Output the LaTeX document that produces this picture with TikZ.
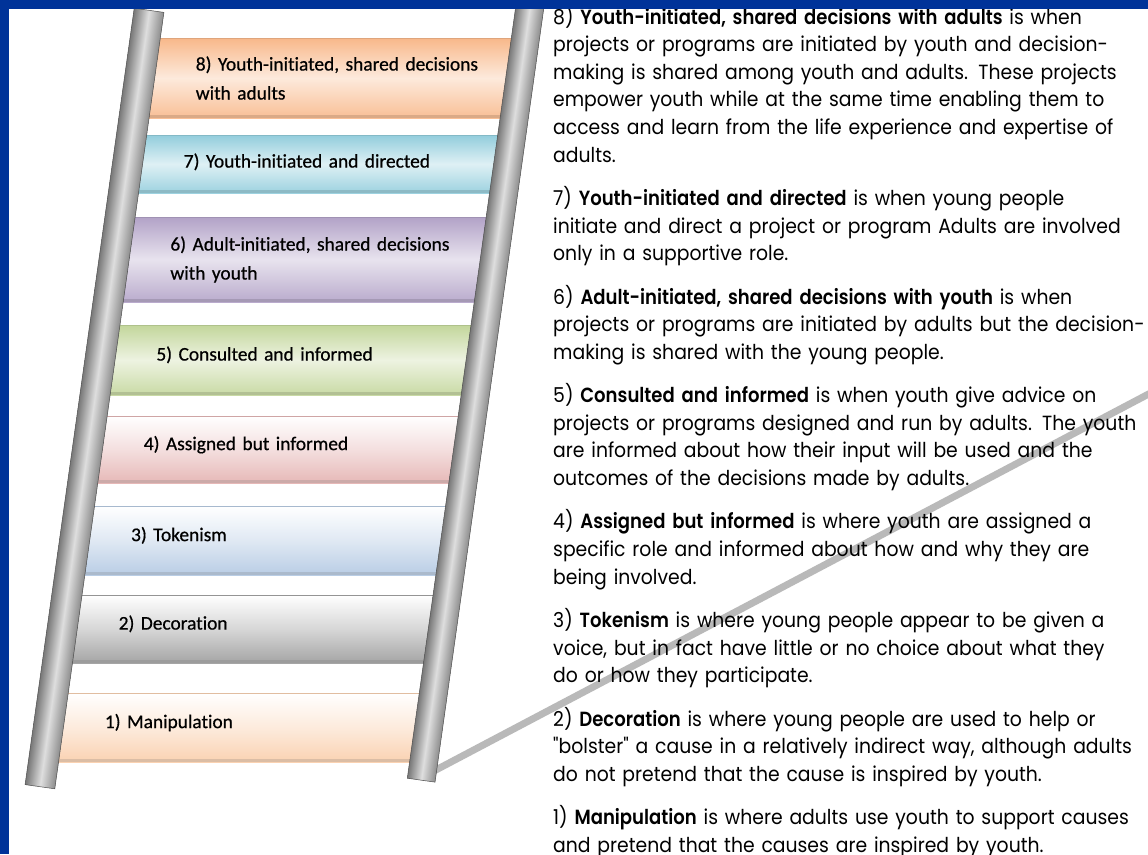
\documentclass[tikz,border=0pt]{standalone}
\usepackage{fontspec}
\setmainfont{Carlito}[Ligatures=NoCommon, FakeBold=0.6]
\newfontfamily\gothic{Poppins}[FakeStretch=0.917, BoldFont={Poppins SemiBold}, BoldFeatures={FakeStretch=0.88}]
\usetikzlibrary{positioning}

\definecolor{frameblue}{RGB}{0,51,153}
\definecolor{railedge}{RGB}{120,120,120}
\definecolor{raillight}{RGB}{222,222,222}
\definecolor{linegray}{RGB}{185,185,185}
\definecolor{c8}{RGB}{248,184,138}
\definecolor{c7}{RGB}{146,205,220}
\definecolor{c6}{RGB}{178,162,199}
\definecolor{c5}{RGB}{195,214,155}
\definecolor{c4}{RGB}{230,184,183}
\definecolor{c3}{RGB}{185,205,229}
\definecolor{c2}{RGB}{165,165,165}
\definecolor{c1}{RGB}{250,210,178}

\tikzstyle{rung} = [rectangle, minimum width=372pt, text width=272pt, inner xsep=50pt, inner ysep=0pt, align=left, text depth=13pt, font=\fontsize{19.4}{29}\selectfont]
\tikzstyle{rail} = [left color=railedge, right color=railedge!85, middle color=raillight, draw=gray!60!black, line width=0.5pt]
\tikzstyle{para} = [text width=700pt, inner sep=0pt, align=left, font=\gothic\fontsize{20.5}{27.6}\selectfont, execute at begin node=\strut, execute at end node=\strut]
\tikzset{
  glossy/.style={top color=#1, bottom color=#1!90!white, middle color=#1!30!white,
    path picture={\fill[#1!75!gray] ([yshift=3.5pt]path picture bounding box.south west) rectangle (path picture bounding box.south east);
      \draw[#1!90!black, line width=1.2pt] (path picture bounding box.north west) -- (path picture bounding box.north east);}},
  faded/.style={top color=white, bottom color=#1, middle color=#1!45!white,
    path picture={\fill[#1!75!gray] ([yshift=3.5pt]path picture bounding box.south west) rectangle (path picture bounding box.south east);
      \draw[#1!90!black, line width=1.2pt] (path picture bounding box.north west) -- (path picture bounding box.north east);}}
}

\begin{document}
\begin{tikzpicture}[x=1pt, y=-1pt]
    \useasboundingbox (0,0) rectangle (1148,854);
    \fill[white] (0,0) rectangle (1148,854);

    % rungs, top to bottom
    \node (r8) [rung, glossy=c8, minimum height=80pt, text depth={}] at (331.8,78) {\mbox{8) Youth-initiated, shared decisions}\\with adults};
    \node (r7) [rung, glossy=c7, minimum height=58pt, text depth=7pt, node distance=86pt, below of=r8, xshift=-12pt] {7) Youth-initiated and directed};
    \node (r6) [rung, glossy=c6, minimum height=85pt, text depth={}, node distance=95.5pt, below of=r7, xshift=-13.4pt] {\mbox{6) Adult-initiated, shared decisions}\\with youth};
    \node (r5) [rung, glossy=c5, minimum height=70pt, node distance=100.5pt, below of=r6, xshift=-14pt] {5) Consulted and informed};
    \node (r4) [rung, faded=c4, minimum height=67pt, node distance=89.5pt, below of=r5, xshift=-12.6pt] {4) Assigned but informed};
    \node (r3) [rung, faded=c3, minimum height=69pt, node distance=91pt, below of=r4, xshift=-12.7pt] {3) Tokenism};
    \node (r2) [rung, faded=c2, minimum height=68pt, node distance=88.5pt, below of=r3, xshift=-12.4pt] {2) Decoration};
    \node (r1) [rung, faded=c1, minimum height=69pt, node distance=98.5pt, below of=r2, xshift=-13.8pt] {1) Manipulation};

    % line from the foot of the ladder
    \coordinate (railfoot) at (432,772);
    \coordinate (lineend) at (1160,388);
    \draw[linegray, line width=7pt] (railfoot) -- (lineend);

    % rails
    \shade[rail, transform canvas={shift={(94.5pt,-398.5pt)}, rotate=-8}] (-15pt,-392pt) rectangle (15pt,392pt);
    \shade[rail, transform canvas={shift={(476pt,-390pt)}, rotate=-8}] (-14pt,-394pt) rectangle (14pt,394pt);

    % descriptions
    \node (p8) [para, anchor=north west] at (553,4.5) {8) \textbf{Youth-initiated, shared decisions with adults} is when\\projects or programs are initiated by youth and decision-\\making is shared among youth and adults. These projects\\empower youth while at the same time enabling them to\\access and learn from the life experience and expertise of\\adults.};
    \node (p7) [para, below right=15.4pt and 0pt of p8.south west] {7) \textbf{Youth-initiated and directed} is when young people\\initiate and direct a project or program Adults are involved\\only in a supportive role.};
    \node (p6) [para, below right=15.4pt and 0pt of p7.south west] {6) \textbf{Adult-initiated, shared decisions with youth} is when\\projects or programs are initiated by adults but the decision-\\making is shared with the young people.};
    \node (p5) [para, below right=15.4pt and 0pt of p6.south west] {5) \textbf{Consulted and informed} is when youth give advice on\\projects or programs designed and run by adults. The youth\\are informed about how their input will be used and the\\outcomes of the decisions made by adults.};
    \node (p4) [para, below right=15.4pt and 0pt of p5.south west] {4) \textbf{Assigned but informed} is where youth are assigned a\\specific role and informed about how and why they are\\being involved.};
    \node (p3) [para, below right=15.4pt and 0pt of p4.south west] {3) \textbf{Tokenism} is where young people appear to be given a\\voice, but in fact have little or no choice about what they\\do or how they participate.};
    \node (p2) [para, below right=15.4pt and 0pt of p3.south west] {2) \textbf{Decoration} is where young people are used to help or\\"bolster" a cause in a relatively indirect way, although adults\\do not pretend that the cause is inspired by youth.};
    \node (p1) [para, below right=15.4pt and 0pt of p2.south west] {1) \textbf{Manipulation} is where adults use youth to support causes\\and pretend that the causes are inspired by youth.};

    % frame
    \fill[frameblue] (0,0) rectangle (1148,8.6);
    \fill[frameblue] (0,0) rectangle (8.6,854);
\end{tikzpicture}
\end{document}
